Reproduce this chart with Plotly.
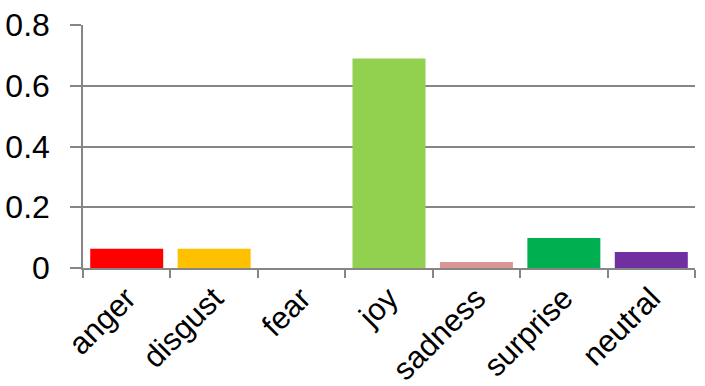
import plotly.graph_objects as go

categories = ["anger", "disgust", "fear", "joy", "sadness", "surprise", "neutral"]
values = [0.063, 0.063, 0.0, 0.69, 0.02, 0.099, 0.053]
colors = ["#FF0000", "#FFC000", "#808080", "#92D050", "#D99694", "#00B050", "#7030A0"]
y_ticks = [0, 0.2, 0.4, 0.6, 0.8]
y_tick_labels = ["0", "0.2", "0.4", "0.6", "0.8"]

fig = go.Figure(go.Bar(x=categories, y=values, marker=dict(color=colors, line=dict(width=0))))

axis_col = "#868686"
font = dict(family="Liberation Sans, Arial, sans-serif", size=32, color="#000000")
xfont = dict(family="Liberation Sans, Arial, sans-serif", size=31, color="#000000")

fig.update_layout(
    width=705, height=386,
    margin=dict(l=83, r=10, t=25, b=118),
    paper_bgcolor="white", plot_bgcolor="white",
    bargap=0.165,
    showlegend=False,
    font=font,
)
fig.update_xaxes(
    showline=True, linecolor=axis_col, linewidth=1.5,
    ticks="outside", tickson="boundaries", ticklen=8, tickcolor=axis_col, tickwidth=1.5,
    tickangle=-45, tickfont=xfont, showgrid=False, automargin=False,
    ticklabelstandoff=-2,
)
fig.update_yaxes(
    range=[0, 0.8], tickvals=y_ticks, ticktext=y_tick_labels,
    showline=True, linecolor=axis_col, linewidth=1.5,
    showgrid=True, gridcolor=axis_col, gridwidth=1.5,
    ticks="outside", ticklen=11, tickcolor=axis_col, tickwidth=1.5,
    tickfont=font, zeroline=False, ticklabelstandoff=14, automargin=False,
    ticklabeloverflow="allow",
)
fig.write_html("out.html", config={"displayModeBar": False},
               post_script="document.body.style.margin='0';")
